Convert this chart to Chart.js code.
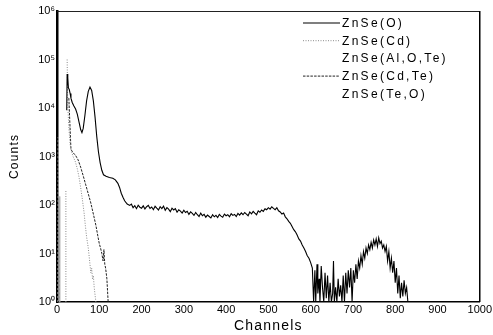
<!DOCTYPE html>
<html lang="en">
<head>
<meta charset="UTF-8" />
<title>ZnSe – Counts vs Channels</title>
<script src="https://cdn.jsdelivr.net/npm/chart.js"></script>
<style>
  body { margin: 0; background: #fff; }
  canvas { display: block; }
</style>
</head>
<body>
<canvas id="chart" width="493" height="335"></canvas>
<script>
  // series names, as in the legend
  const seriesNames = ['ZnSe(O)', 'ZnSe(Cd)', 'ZnSe(Al,O,Te)', 'ZnSe(Cd,Te)', 'ZnSe(Te,O)'];

  // ZnSe(O) – the long spectrum
  const oChannels = [
    23, 24, 25, 26, 27, 29, 31, 33, 36, 40, 44, 48, 52, 56, 59, 62, 66, 70, 74, 78, 82, 86, 90, 94, 98,
    102, 106, 110, 116, 124, 132, 138, 144, 148, 152, 156, 160, 166, 172,
    176, 180, 184, 188, 192, 196, 200, 204, 208, 212, 216, 220, 224, 228, 232, 236, 240, 244, 248, 252,
    256, 260, 264, 268, 272, 276, 280, 284, 288, 292, 296, 300, 304, 308, 312, 316, 320, 324, 328, 332,
    336, 340, 344, 348, 352, 356, 360, 364, 368, 372, 376, 380, 384, 388, 392, 396, 400, 404, 408, 412,
    416, 420, 424, 428, 432, 436, 440, 444, 448, 452, 456, 460, 464, 468, 472, 476, 480, 484, 488, 492,
    496, 500, 504, 508, 512, 516, 520, 524, 528, 532, 536, 540, 544, 548, 552, 556, 560, 564, 568, 572,
    576, 580, 584, 588, 592, 596, 600, 604, 607,
    610, 612, 615, 617, 620, 622, 625, 628, 631, 634, 637, 640, 643, 646, 649, 652, 654, 656, 659, 662,
    665, 668, 671, 674, 677, 680, 683, 686, 689, 692, 695, 698, 701, 704, 707, 710, 713, 716, 719, 722,
    725, 728, 731, 734, 737, 740, 743, 746, 749, 752, 755, 758, 761, 764, 767, 770, 773, 776, 779, 782,
    785, 788, 791, 794, 797, 800, 803, 806, 809, 812, 815, 818, 821, 824, 827, 830
  ];
  const oCounts = [
    9000, 50000, 30000, 42000, 26000, 24000, 20000, 16000, 13000, 11000, 9500, 7500, 5200, 3600, 3100, 3800, 7000, 14000, 22000, 27000, 23000, 14000, 6500, 2600, 1250,
    750, 520, 420, 390, 370, 355, 330, 280, 230, 175, 145, 122, 105, 98,
    104, 88, 97, 84, 99, 90, 86, 96, 83, 92, 98, 85, 91, 80, 94, 86, 79, 92, 84, 95,
    78, 88, 82, 73, 86, 79, 84, 71, 80, 75, 68, 78, 70, 74, 64, 72, 67, 61, 70, 63,
    58, 68, 60, 64, 56, 62, 58, 54, 63, 57, 61, 55, 64, 59, 56, 65, 60, 63, 57, 66,
    61, 64, 58, 67, 62, 69, 63, 70, 65, 60, 72, 66, 74, 68, 63, 76, 71, 79, 74, 84,
    80, 88, 82, 92, 85, 80, 88, 76, 72, 65, 68, 57, 52, 46, 42, 36, 31, 28, 24, 20,
    18, 15, 13, 11, 9, 8, 6.5, 5, 1,
    4.5, 1, 6, 1.5, 3, 1, 5.5, 2, 1, 4, 1.2, 3.5, 1, 2.5, 1, 1.5, 7, 1, 2, 1,
    3, 1.3, 2.2, 1, 3.5, 1, 4, 1.5, 4.5, 2, 5, 1, 4.5, 2.5, 6, 3, 7, 5, 9, 6,
    11, 8, 13, 10, 15, 12, 17, 13, 19, 15, 20, 14, 21, 16, 18, 13, 15, 11, 14, 7,
    11, 5, 8, 4, 7, 2.5, 5, 1.5, 3.5, 1.2, 2.5, 1.3, 2.8, 1.5, 2, 1
  ];

  // ZnSe(Cd) – steep dotted curve (null = gap in the line)
  const cdChannels = [21, 21, 22, 24, 25, 26, 28, 31, 34, 38, 43, 48, 52, 56, 60, 64, 67, 70, 74, 78, 80, 82, 84, 86, 88, 90, 92];
  const cdCounts   = [1, 200, null, 100000, 20000, 9000, 4000, 1800, 1300, 1000, 800, 560, 380, 230, 130, 70, 38, 22, 13, 6, 4, 5, 3, 3.5, 2, 1.4, 1];

  // ZnSe(Al,O,Te) and ZnSe(Te,O) – short spikes at the left edge
  const aloteChannels = [2, 3, 4, 6];
  const aloteCounts   = [1, 2500, 40, 1];
  const teoChannels = [5, 6, 7];
  const teoCounts   = [1, 150, 1];

  // ZnSe(Cd,Te) – dashed curve
  const cdteChannels = [28, 30, 33, 38, 44, 50, 56, 62, 68, 74, 80, 86, 92, 97, 100, 103, 106, 109, 111, 113, 115, 118, 121];
  const cdteCounts   = [16000, 6000, 1400, 1200, 1050, 850, 600, 400, 260, 170, 110, 65, 38, 22, 16, 13, 10, 7, 12, 6, 5, 3, 1];

  // axis ticks
  const xTicks = [0, 100, 200, 300, 400, 500, 600, 700, 800, 900, 1000];
  const yTicks = [1, 10, 100, 1000, 10000, 100000, 1000000];
  const sup = ['⁰', '¹', '²', '³', '⁴', '⁵', '⁶'];

  function pts(xs, ys) {
    return xs.map((x, i) => ({ x: x, y: ys[i] }));
  }

  const datasets = [
    { label: seriesNames[0], data: pts(oChannels, oCounts), borderColor: '#000', borderWidth: 1.1, showLegendLine: true },
    { label: seriesNames[1], data: pts(cdChannels, cdCounts), borderColor: '#8a8a8a', borderWidth: 1, borderDash: [1, 1.5], showLegendLine: true },
    { label: seriesNames[2], data: pts(aloteChannels, aloteCounts), borderColor: '#999', borderWidth: 1, borderDash: [2, 2], showLegendLine: false },
    { label: seriesNames[3], data: pts(cdteChannels, cdteCounts), borderColor: '#222', borderWidth: 1, borderDash: [2.5, 1.2], showLegendLine: true },
    { label: seriesNames[4], data: pts(teoChannels, teoCounts), borderColor: '#aaa', borderWidth: 1, showLegendLine: false }
  ];

  // titles get the wide spacing of the original, tick labels do not
  const spacingPlugin = {
    id: 'spacing',
    beforeDraw(chart) { chart.ctx.letterSpacing = '1.2px'; },
    beforeDatasetsDraw(chart) {
      chart.ctx.letterSpacing = '0px';
      const { ctx, chartArea: a } = chart;
      ctx.save();
      ctx.strokeStyle = '#222';
      ctx.lineWidth = 1;
      ctx.beginPath();
      ctx.moveTo(a.left, a.top + 0.5);
      ctx.lineTo(a.right, a.top + 0.5);
      ctx.stroke();
      ctx.lineWidth = 1.5;
      ctx.strokeStyle = '#000';
      ctx.beginPath();
      ctx.moveTo(a.right, a.top);
      ctx.lineTo(a.right, a.bottom);
      ctx.stroke();
      ctx.restore();
    }
  };

  // legend inside the plot, top right
  const insideLegend = {
    id: 'insideLegend',
    afterDraw(chart) {
      const ctx = chart.ctx;
      ctx.save();
      ctx.font = '12px "Liberation Sans", Arial, sans-serif';
      ctx.letterSpacing = '2.3px';
      ctx.textBaseline = 'middle';
      ctx.fillStyle = '#000';
      chart.data.datasets.forEach((ds, i) => {
        const y = 23 + i * 17.7;
        if (ds.showLegendLine) {
          ctx.strokeStyle = ds.borderColor;
          ctx.lineWidth = ds.borderWidth;
          ctx.setLineDash(ds.borderDash || []);
          ctx.beginPath();
          ctx.moveTo(303, y);
          ctx.lineTo(340, y);
          ctx.stroke();
        }
        ctx.fillText(ds.label, 342, y + 0.5);
      });
      ctx.restore();
    }
  };

  new Chart(document.getElementById('chart'), {
    type: 'line',
    data: { datasets: datasets },
    options: {
      responsive: false,
      animation: false,
      spanGaps: false,
      layout: { padding: { top: 11, right: 11, left: 0, bottom: 0 } },
      elements: { point: { radius: 0 }, line: { tension: 0 } },
      plugins: { legend: { display: false }, tooltip: { enabled: false } },
      scales: {
        x: {
          type: 'linear',
          min: 0,
          max: 1000,
          afterBuildTicks: s => { s.ticks = xTicks.map(v => ({ value: v })); },
          afterFit: s => { s.height = 33; },
          grid: { display: false, drawTicks: false },
          border: { color: '#000', width: 1.5 },
          ticks: {
            z: 1, padding: 1, maxRotation: 0, autoSkip: false, color: '#000',
            font: { family: '"Liberation Sans", Arial, sans-serif', size: 11 },
            callback: v => String(v)
          },
          title: {
            display: true, text: 'Channels', color: '#000', padding: 0,
            font: { family: '"Liberation Sans", Arial, sans-serif', size: 14 }
          }
        },
        y: {
          type: 'logarithmic',
          min: 1,
          max: 1000000,
          afterBuildTicks: s => { s.ticks = yTicks.map(v => ({ value: v })); },
          afterFit: s => { s.width = 57; },
          grid: { display: false, drawTicks: false },
          border: { color: '#000', width: 2.5 },
          ticks: {
            z: 1, padding: 2, color: '#000',
            font: { family: '"Liberation Sans", Arial, sans-serif', size: 11 },
            callback: v => '10' + sup[Math.round(Math.log10(v))]
          },
          title: {
            display: true, text: 'Counts', color: '#000', padding: { top: 7, bottom: 0 },
            font: { family: '"Liberation Sans", Arial, sans-serif', size: 12 }
          }
        }
      }
    },
    plugins: [spacingPlugin, insideLegend]
  });
</script>
</body>
</html>
